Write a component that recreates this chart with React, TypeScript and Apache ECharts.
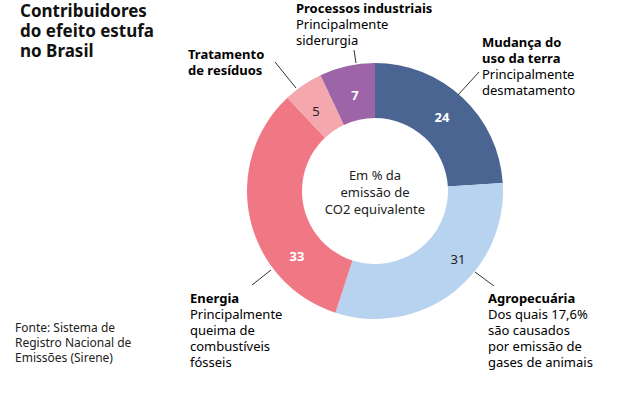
import React, { useEffect, useRef } from "react";
import * as echarts from "echarts";

const categories = [
  "Mudança do uso da terra",
  "Agropecuária",
  "Energia",
  "Tratamento de resíduos",
  "Processos industriais",
];
const values = [24, 31, 33, 5, 7];
const colors = ["#4a6592", "#b8d3ef", "#f07884", "#f4a7ad", "#9e64a8"];
const labelColors = ["#ffffff", "#222222", "#ffffff", "#222222", "#ffffff"];
const labelBold = [true, false, true, false, true];
const labelPos: [number, number][] = [
  [442, 117],
  [458, 259],
  [297, 256],
  [316, 111],
  [355, 95],
];

const FONT = "'Noto Sans', sans-serif";

export default function App() {
  const ref = useRef<HTMLDivElement>(null);
  useEffect(() => {
    if (!ref.current) return;
    const chart = echarts.init(ref.current, undefined, { renderer: "svg" });
    const rich = {
      b: { fontFamily: FONT, fontSize: 13, fontWeight: "bold", color: "#111", lineHeight: 16 },
      r: { fontFamily: FONT, fontSize: 13, color: "#222", lineHeight: 16 },
    };
    const block = (x: number, y: number, bold: string[], reg: string[]) => ({
      type: "text",
      x,
      y,
      z: 100,
      style: {
        text: [...bold.map((t) => `{b|${t}}`), ...reg.map((t) => `{r|${t}}`)].join("\n"),
        rich,
        verticalAlign: "top",
        align: "left",
      },
    });
    const line = (x1: number, y1: number, x2: number, y2: number) => ({
      type: "line",
      z: 100,
      shape: { x1, y1, x2, y2 },
      style: { stroke: "#333", lineWidth: 1 },
    });
    chart.setOption({
      animation: false,
      series: [
        {
          type: "pie",
          center: [375, 191],
          radius: [73, 128],
          startAngle: 90,
          clockwise: true,
          z: 2,
          label: { show: false },
          labelLine: { show: false },
          emphasis: { disabled: true },
          data: categories.map((name, i) => ({
            name,
            value: values[i],
            itemStyle: { color: colors[i] },
          })),
        },
      ],
      graphic: [
        {
          type: "text",
          x: 20,
          y: 0,
          z: 100,
          style: {
            text: "Contribuidores\ndo efeito estufa\nno Brasil",
            fontFamily: FONT,
            fontSize: 17,
            fontWeight: "bold",
            lineHeight: 20,
            fill: "#111",
            verticalAlign: "top",
          },
        },
        block(296, 0, ["Processos industriais"], ["Principalmente", "siderurgia"]),
        block(188, 46, ["Tratamento", "de resíduos"], []),
        block(482, 34, ["Mudança do", "uso da terra"], ["Principalmente", "desmatamento"]),
        block(190, 290, ["Energia"], ["Principalmente", "queima de", "combustíveis", "fósseis"]),
        block(488, 290, ["Agropecuária"], ["Dos quais 17,6%", "são causados", "por emissão de", "gases de animais"]),
        {
          type: "text",
          x: 15,
          y: 320,
          z: 100,
          style: {
            text: "Fonte: Sistema de\nRegistro Nacional de\nEmissões (Sirene)",
            fontFamily: FONT,
            fontSize: 12,
            lineHeight: 15,
            fill: "#222",
            verticalAlign: "top",
          },
        },
        {
          type: "text",
          x: 375,
          y: 192,
          z: 100,
          style: {
            text: "Em % da\nemissão de\nCO2 equivalente",
            fontFamily: FONT,
            fontSize: 13,
            lineHeight: 17,
            fill: "#222",
            align: "center",
            verticalAlign: "middle",
          },
        },
        ...values.map((v, i) => ({
          type: "text",
          x: labelPos[i][0],
          y: labelPos[i][1],
          z: 100,
          style: {
            text: String(v),
            fontFamily: FONT,
            fontSize: 13,
            fontWeight: labelBold[i] ? "bold" : "normal",
            fill: labelColors[i],
            align: "center",
            verticalAlign: "middle",
          },
        })),
        line(354, 50, 356, 63),
        line(275, 62, 296, 88),
        line(479, 72, 458, 95),
        line(475, 272, 494, 286),
        line(271, 270, 252, 285),
      ],
    });
    return () => chart.dispose();
  }, []);
  return (
    <div
      ref={ref}
      style={{ position: "fixed", left: 0, top: 0, width: 644, height: 396, background: "#fff" }}
    />
  );
}
